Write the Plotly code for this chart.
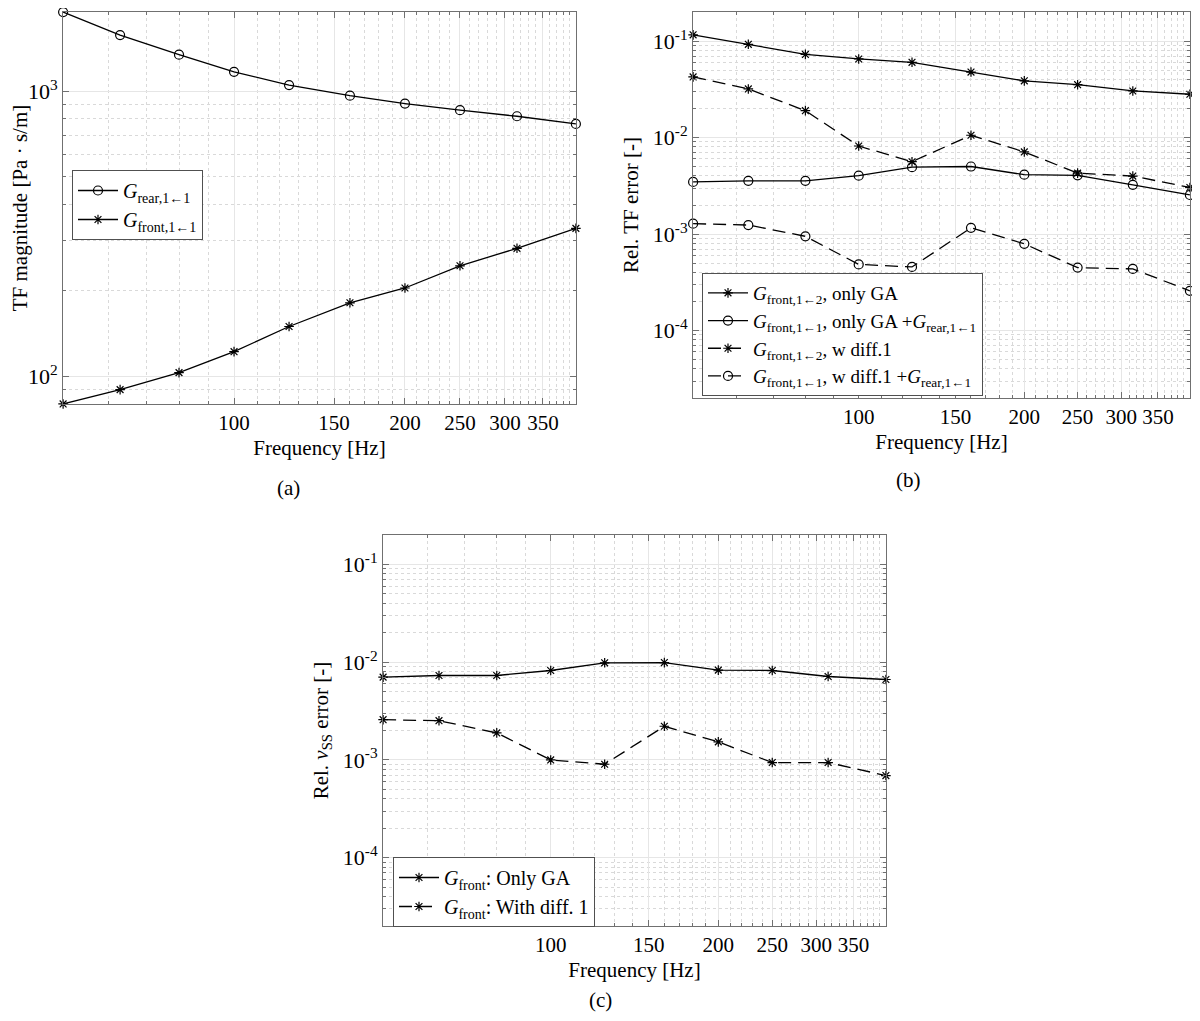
import numpy as np
import plotly.graph_objects as go

# --- data ---
freqs = [50, 63, 80, 100, 125, 160, 200, 250, 315, 400]

# (a) TF magnitude [Pa s/m]
g_rear_11 = [1892, 1571, 1341, 1168, 1049, 963, 904, 857, 816, 767]
g_front_11 = [80, 89.8, 103, 122, 149.5, 181, 204, 244, 281, 330]

# (b) relative TF error
err_front_12_ga = [0.116, 0.0925, 0.0727, 0.0652, 0.0602, 0.0477, 0.0387, 0.0353, 0.0304, 0.0281]
err_front_11_ga = [0.00347, 0.00356, 0.00356, 0.00403, 0.00493, 0.00501, 0.00412, 0.00406, 0.00324, 0.00254]
err_front_12_d1 = [0.0425, 0.0319, 0.019, 0.00817, 0.00562, 0.01056, 0.0071, 0.00428, 0.00399, 0.00304]
err_front_11_d1 = [0.00128, 0.00124, 0.000947, 0.000485, 0.000456, 0.00116, 0.000792, 0.000449, 0.000435, 0.000258]

# (c) relative v_SS error
vss_ga = [0.00703, 0.00731, 0.00731, 0.00822, 0.00985, 0.0099, 0.00829, 0.00822, 0.00714, 0.00665]
vss_d1 = [0.00258, 0.00252, 0.00189, 0.001, 0.000903, 0.00221, 0.00153, 0.00094, 0.00094, 0.000692]

xtick_vals = [100, 150, 200, 250, 300, 350]
xminor_vals = [f for f in range(60, 400, 10) if f not in xtick_vals]

FONT = "Liberation Serif"
# page has an 8px body margin, so the figure is a bit smaller than the window
W, H = 1184, 1005
AXCOL = "#707070"
DASH = "13px,7px"
EPS = 2e-4


def dom_x(x0, x1):
    return [x0 / W, x1 / W]


def dom_y(top, bottom):
    return [1 - bottom / H, 1 - top / H]


def log_minor(lo_exp, hi_exp):
    vals = []
    for e in range(lo_exp, hi_exp + 1):
        for d in range(2, 10):
            vals.append(d * 10.0 ** e)
    return vals


def xaxis_style(domain, anchor):
    return dict(
        type="log", domain=domain, anchor=anchor,
        range=[np.log10(50) - EPS, np.log10(400) + EPS],
        tickvals=xtick_vals, ticktext=[str(v) for v in xtick_vals],
        ticks="inside", ticklen=6, tickcolor=AXCOL,
        showline=True, linecolor=AXCOL, linewidth=1, mirror="ticks",
        showgrid=True, gridcolor="#e6e6e6", gridwidth=1,
        minor=dict(tickvals=xminor_vals, ticks="inside", ticklen=3,
                   tickcolor=AXCOL, showgrid=True, gridcolor="#d9d9d9",
                   griddash="dot", gridwidth=1),
        tickfont=dict(family=FONT, size=21, color="black"),
        title=dict(text="Frequency [Hz]", font=dict(family=FONT, size=21, color="black"),
                   standoff=6),
        zeroline=False,
    )


def yaxis_style(domain, anchor, rng, majors, minors, title, standoff):
    return dict(
        type="log", domain=domain, anchor=anchor, range=rng,
        tickvals=[10.0 ** e for e in majors],
        ticktext=["10<sup>%d</sup>" % e for e in majors],
        ticks="inside", ticklen=6, tickcolor=AXCOL,
        showline=True, linecolor=AXCOL, linewidth=1, mirror="ticks",
        showgrid=True, gridcolor="#e6e6e6", gridwidth=1,
        minor=dict(tickvals=minors, ticks="inside", ticklen=3,
                   tickcolor=AXCOL, showgrid=True, gridcolor="#d9d9d9",
                   griddash="dot", gridwidth=1),
        tickfont=dict(family=FONT, size=22, color="black"),
        title=dict(text=title, font=dict(family=FONT, size=21, color="black"),
                   standoff=standoff),
        zeroline=False,
    )


def line_trace(y, xa, ya, name, symbol, dashed, legend):
    return go.Scatter(
        x=freqs, y=y, xaxis=xa, yaxis=ya, name=name, legend=legend,
        mode="lines+markers", cliponaxis=False,
        line=dict(color="black", width=1.3, dash=DASH if dashed else "solid"),
        marker=dict(symbol=symbol, size=9 if symbol == "circle-open" else 8,
                    color="black", line=dict(color="black", width=1.2)),
    )


fig = go.Figure()

# (a)
fig.add_trace(line_trace(g_rear_11, "x", "y", "<i>G</i><sub>rear,1←1</sub>",
                         "circle-open", False, "legend"))
fig.add_trace(line_trace(g_front_11, "x", "y", "<i>G</i><sub>front,1←1</sub>",
                         "asterisk-open", False, "legend"))

# (b)
fig.add_trace(line_trace(err_front_12_ga, "x2", "y2",
                         "<i>G</i><sub>front,1←2</sub>, only GA",
                         "asterisk-open", False, "legend2"))
fig.add_trace(line_trace(err_front_11_ga, "x2", "y2",
                         "<i>G</i><sub>front,1←1</sub>, only GA +<i>G</i><sub>rear,1←1</sub>",
                         "circle-open", False, "legend2"))
fig.add_trace(line_trace(err_front_12_d1, "x2", "y2",
                         "<i>G</i><sub>front,1←2</sub>, w diff.1",
                         "asterisk-open", True, "legend2"))
fig.add_trace(line_trace(err_front_11_d1, "x2", "y2",
                         "<i>G</i><sub>front,1←1</sub>, w diff.1 +<i>G</i><sub>rear,1←1</sub>",
                         "circle-open", True, "legend2"))

# (c)
fig.add_trace(line_trace(vss_ga, "x3", "y3", "<i>G</i><sub>front</sub>: Only GA",
                         "asterisk-open", False, "legend3"))
fig.add_trace(line_trace(vss_d1, "x3", "y3", "<i>G</i><sub>front</sub>: With diff. 1",
                         "asterisk-open", True, "legend3"))

err_range = [np.log10(2e-5), np.log10(0.2)]
err_minor = log_minor(-5, -1)


def legend_style(x, y, yanchor, size):
    return dict(
        bgcolor="white", bordercolor="#505050", borderwidth=1,
        font=dict(family=FONT, size=size, color="black"),
        xanchor="left", yanchor=yanchor, tracegroupgap=0, itemwidth=40,
        x=x / W, y=1 - y / H,
    )


fig.update_layout(
    width=W, height=H,
    margin=dict(l=0, r=0, t=0, b=0),
    paper_bgcolor="white", plot_bgcolor="white",
    showlegend=True,
    xaxis=xaxis_style(dom_x(55, 568), "y"),
    yaxis=yaxis_style(dom_y(4, 396), "x",
                      [np.log10(80) - EPS, np.log10(1892) + EPS],
                      [2, 3], log_minor(1, 2), "TF magnitude [Pa · s/m]", 4),
    xaxis2=xaxis_style(dom_x(685, 1182), "y2"),
    yaxis2=yaxis_style(dom_y(4, 390), "x2", err_range, [-4, -3, -2, -1],
                       err_minor, "Rel. TF error [-]", 8),
    xaxis3=xaxis_style(dom_x(375, 878), "y3"),
    yaxis3=yaxis_style(dom_y(527, 918), "x3", err_range, [-4, -3, -2, -1],
                       err_minor, "Rel. <i>v</i><sub>SS</sub> error [-]", 8),
    legend=legend_style(64, 197, "middle", 20),
    legend2=legend_style(694, 388, "bottom", 19),
    legend3=legend_style(385, 884, "middle", 20),
)

captions = [("(a)", 280, 480), ("(b)", 900, 472), ("(c)", 592, 992)]
for text, cx, cy in captions:
    fig.add_annotation(text=text, x=cx / W, y=1 - cy / H, xref="paper", yref="paper",
                       xanchor="center", yanchor="middle", showarrow=False,
                       font=dict(family=FONT, size=21, color="black"))

fig.write_html("out.html")
